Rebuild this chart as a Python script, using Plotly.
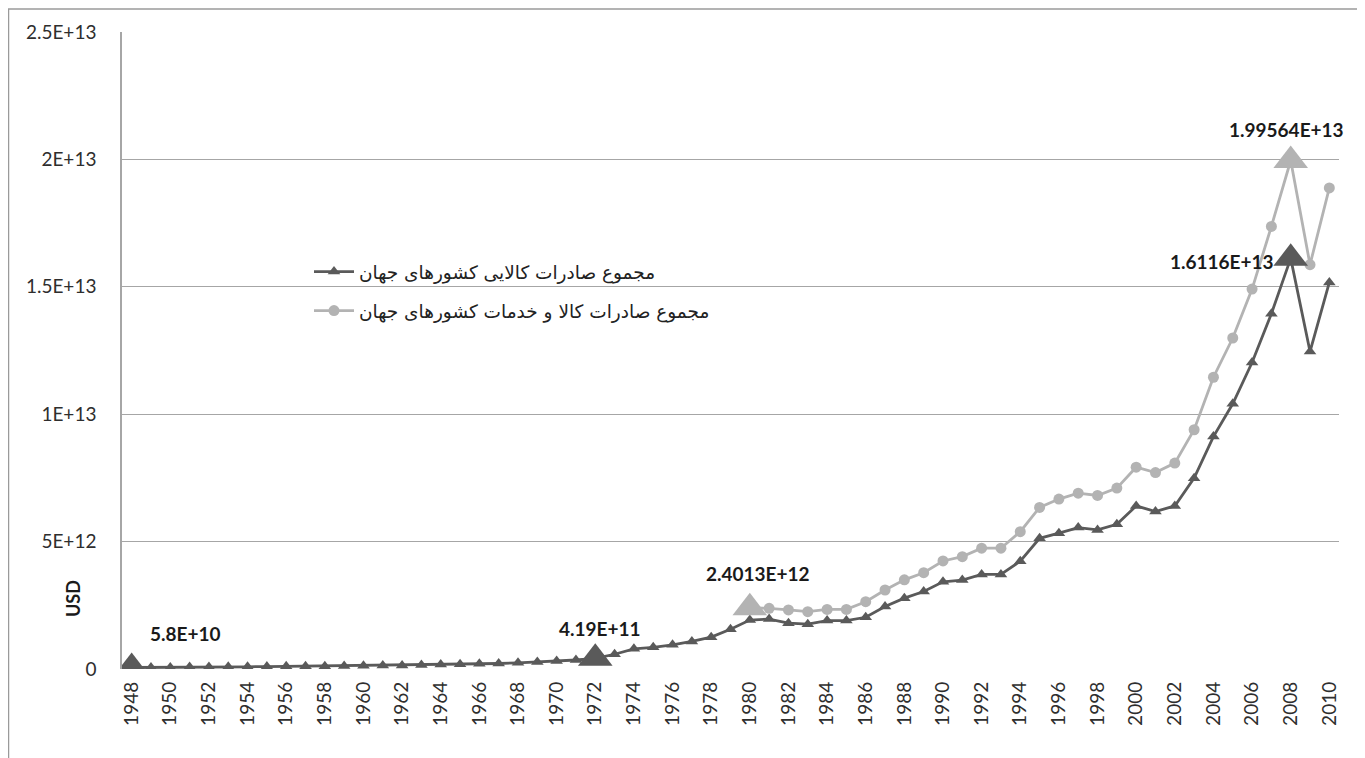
import plotly.graph_objects as go

# ---- data ----
years = list(range(1948, 2011))
merch = [0.058, 0.059, 0.062, 0.083, 0.081, 0.084, 0.087, 0.094, 0.104, 0.112,
         0.108, 0.116, 0.130, 0.135, 0.142, 0.157, 0.175, 0.188, 0.206, 0.216,
         0.241, 0.275, 0.317, 0.354, 0.419, 0.579, 0.790, 0.850, 0.950, 1.080,
         1.250, 1.560, 1.920, 1.960, 1.800, 1.760, 1.900, 1.900, 2.030, 2.450,
         2.780, 3.040, 3.420, 3.490, 3.710, 3.710, 4.230, 5.130, 5.330, 5.550,
         5.460, 5.680, 6.400, 6.180, 6.400, 7.490, 9.120, 10.410, 12.030, 13.940,
         16.116, 12.460, 15.170]
merch = [v * 1e12 for v in merch]

gs_years = list(range(1980, 2011))
goods_services = [2.4013, 2.380, 2.320, 2.250, 2.340, 2.340, 2.640, 3.100, 3.500, 3.780,
                  4.240, 4.410, 4.740, 4.740, 5.390, 6.340, 6.670, 6.900, 6.810, 7.100,
                  7.920, 7.710, 8.080, 9.390, 11.450, 12.990, 14.910, 17.370, 19.9564, 15.870,
                  18.880]
goods_services = [v * 1e12 for v in goods_services]

name_merch = "مجموع صادرات کالایی کشورهای جهان"
name_gs = "مجموع صادرات کالا و خدمات کشورهای جهان"

ytick_vals = [0, 5e12, 1e13, 1.5e13, 2e13, 2.5e13]
ytick_text = ["0", "5E+12", "1E+13", "1.5E+13", "2E+13", "2.5E+13"]
xtick_vals = list(range(1948, 2011, 2))

# highlighted points (series, year, label)
hl_merch_years = [1948, 1972, 2008]
hl_merch_labels = ["5.8E+10", "4.19E+11", "1.6116E+13"]
hl_gs_years = [1980, 2008]
hl_gs_labels = ["2.4013E+12", "1.99564E+13"]

DARK = "#5a5a5a"
LIGHT = "#b3b3b3"

# page has an 8px body margin; figure placed at (8, 8)
W, H = 1357, 750
ML, MR, MT, MB = 114, 26, 24, 89
PW = W - ML - MR   # plot width in px
PH = H - MT - MB   # plot height in px
OX, OY = 8, 8


def dom_x(px):
    return (px - OX - ML) / PW


def dom_y(py):
    return (H - MB + OY - py) / PH


fig = go.Figure()
fig.add_trace(go.Scatter(
    x=years, y=merch, mode="lines+markers", name=name_merch,
    line=dict(color=DARK, width=2.8),
    marker=dict(symbol="triangle-up", size=11, color=DARK),
    legendgroup="a",
))
fig.add_trace(go.Scatter(
    x=gs_years, y=goods_services, mode="lines+markers", name=name_gs,
    line=dict(color=LIGHT, width=2.8),
    marker=dict(symbol="circle", size=11, color=LIGHT),
    legendgroup="b",
))
# highlight markers
fig.add_trace(go.Scatter(
    x=hl_merch_years, y=[merch[years.index(y)] for y in hl_merch_years],
    mode="markers", showlegend=False,
    marker=dict(symbol="triangle-up", size=30, color=DARK),
))
fig.add_trace(go.Scatter(
    x=hl_gs_years, y=[goods_services[gs_years.index(y)] for y in hl_gs_years],
    mode="markers", showlegend=False,
    marker=dict(symbol="triangle-up", size=30, color=LIGHT),
))

lab_font = dict(family="Lato, Open Sans, DejaVu Sans", size=19, color="#1a1a1a")
shifts = {
    ("m", 1948): dict(xanchor="left", xshift=16, yshift=34),
    ("m", 1972): dict(xanchor="center", xshift=5, yshift=30),
    ("m", 2008): dict(xanchor="right", xshift=-15, yshift=-3),
    ("g", 1980): dict(xanchor="center", xshift=8, yshift=34),
    ("g", 2008): dict(xanchor="center", xshift=-4, yshift=31),
}
for yr, lab in zip(hl_merch_years, hl_merch_labels):
    fig.add_annotation(x=yr, y=merch[years.index(yr)], text="<b>%s</b>" % lab,
                       showarrow=False, font=lab_font, yanchor="middle",
                       **shifts[("m", yr)])
for yr, lab in zip(hl_gs_years, hl_gs_labels):
    fig.add_annotation(x=yr, y=goods_services[gs_years.index(yr)], text="<b>%s</b>" % lab,
                       showarrow=False, font=lab_font, yanchor="middle",
                       **shifts[("g", yr)])

fig.add_annotation(x=dom_x(73), y=dom_y(599), xref="x domain", yref="y domain",
                   text="<b>USD</b>", showarrow=False, textangle=-90,
                   xanchor="center", yanchor="middle",
                   font=dict(family="Lato, Open Sans, DejaVu Sans", size=18, color="#1a1a1a"))

# outer chart border
fig.add_shape(type="rect", xref="paper", yref="paper",
              x0=dom_x(8.5), x1=dom_x(1361.5),
              y0=dom_y(800), y1=dom_y(9),
              line=dict(color="#9a9a9a", width=1.5), fillcolor="rgba(0,0,0,0)", layer="below")

tick_font = dict(family="Lato, Open Sans, DejaVu Sans", size=19, color="#2e2e2e")
fig.update_layout(
    width=W, height=H,
    margin=dict(l=ML, r=MR, t=MT, b=MB),
    paper_bgcolor="white", plot_bgcolor="white",
    showlegend=True,
    legend=dict(x=dom_x(309), y=dom_y(253), xanchor="left", yanchor="top",
                font=dict(family="DejaVu Sans", size=18.5, color="#222222"),
                bgcolor="rgba(0,0,0,0)", tracegroupgap=12, itemwidth=40,
                traceorder="grouped"),
    xaxis=dict(range=[1947.5, 2010.5], tickmode="array", tickvals=xtick_vals,
               ticktext=[str(v) for v in xtick_vals], tickangle=-90,
               showgrid=False, zeroline=False, showline=False,
               tickfont=tick_font, ticklabelstandoff=8),
    yaxis=dict(range=[0, 2.5e13], tickmode="array", tickvals=ytick_vals,
               ticktext=ytick_text, showgrid=True, gridcolor="#a6a6a6", gridwidth=1,
               zeroline=False, showline=True, linecolor="#a6a6a6", linewidth=1.5,
               tickfont=tick_font, ticklabelstandoff=20),
)

fig.write_html("out.html")
